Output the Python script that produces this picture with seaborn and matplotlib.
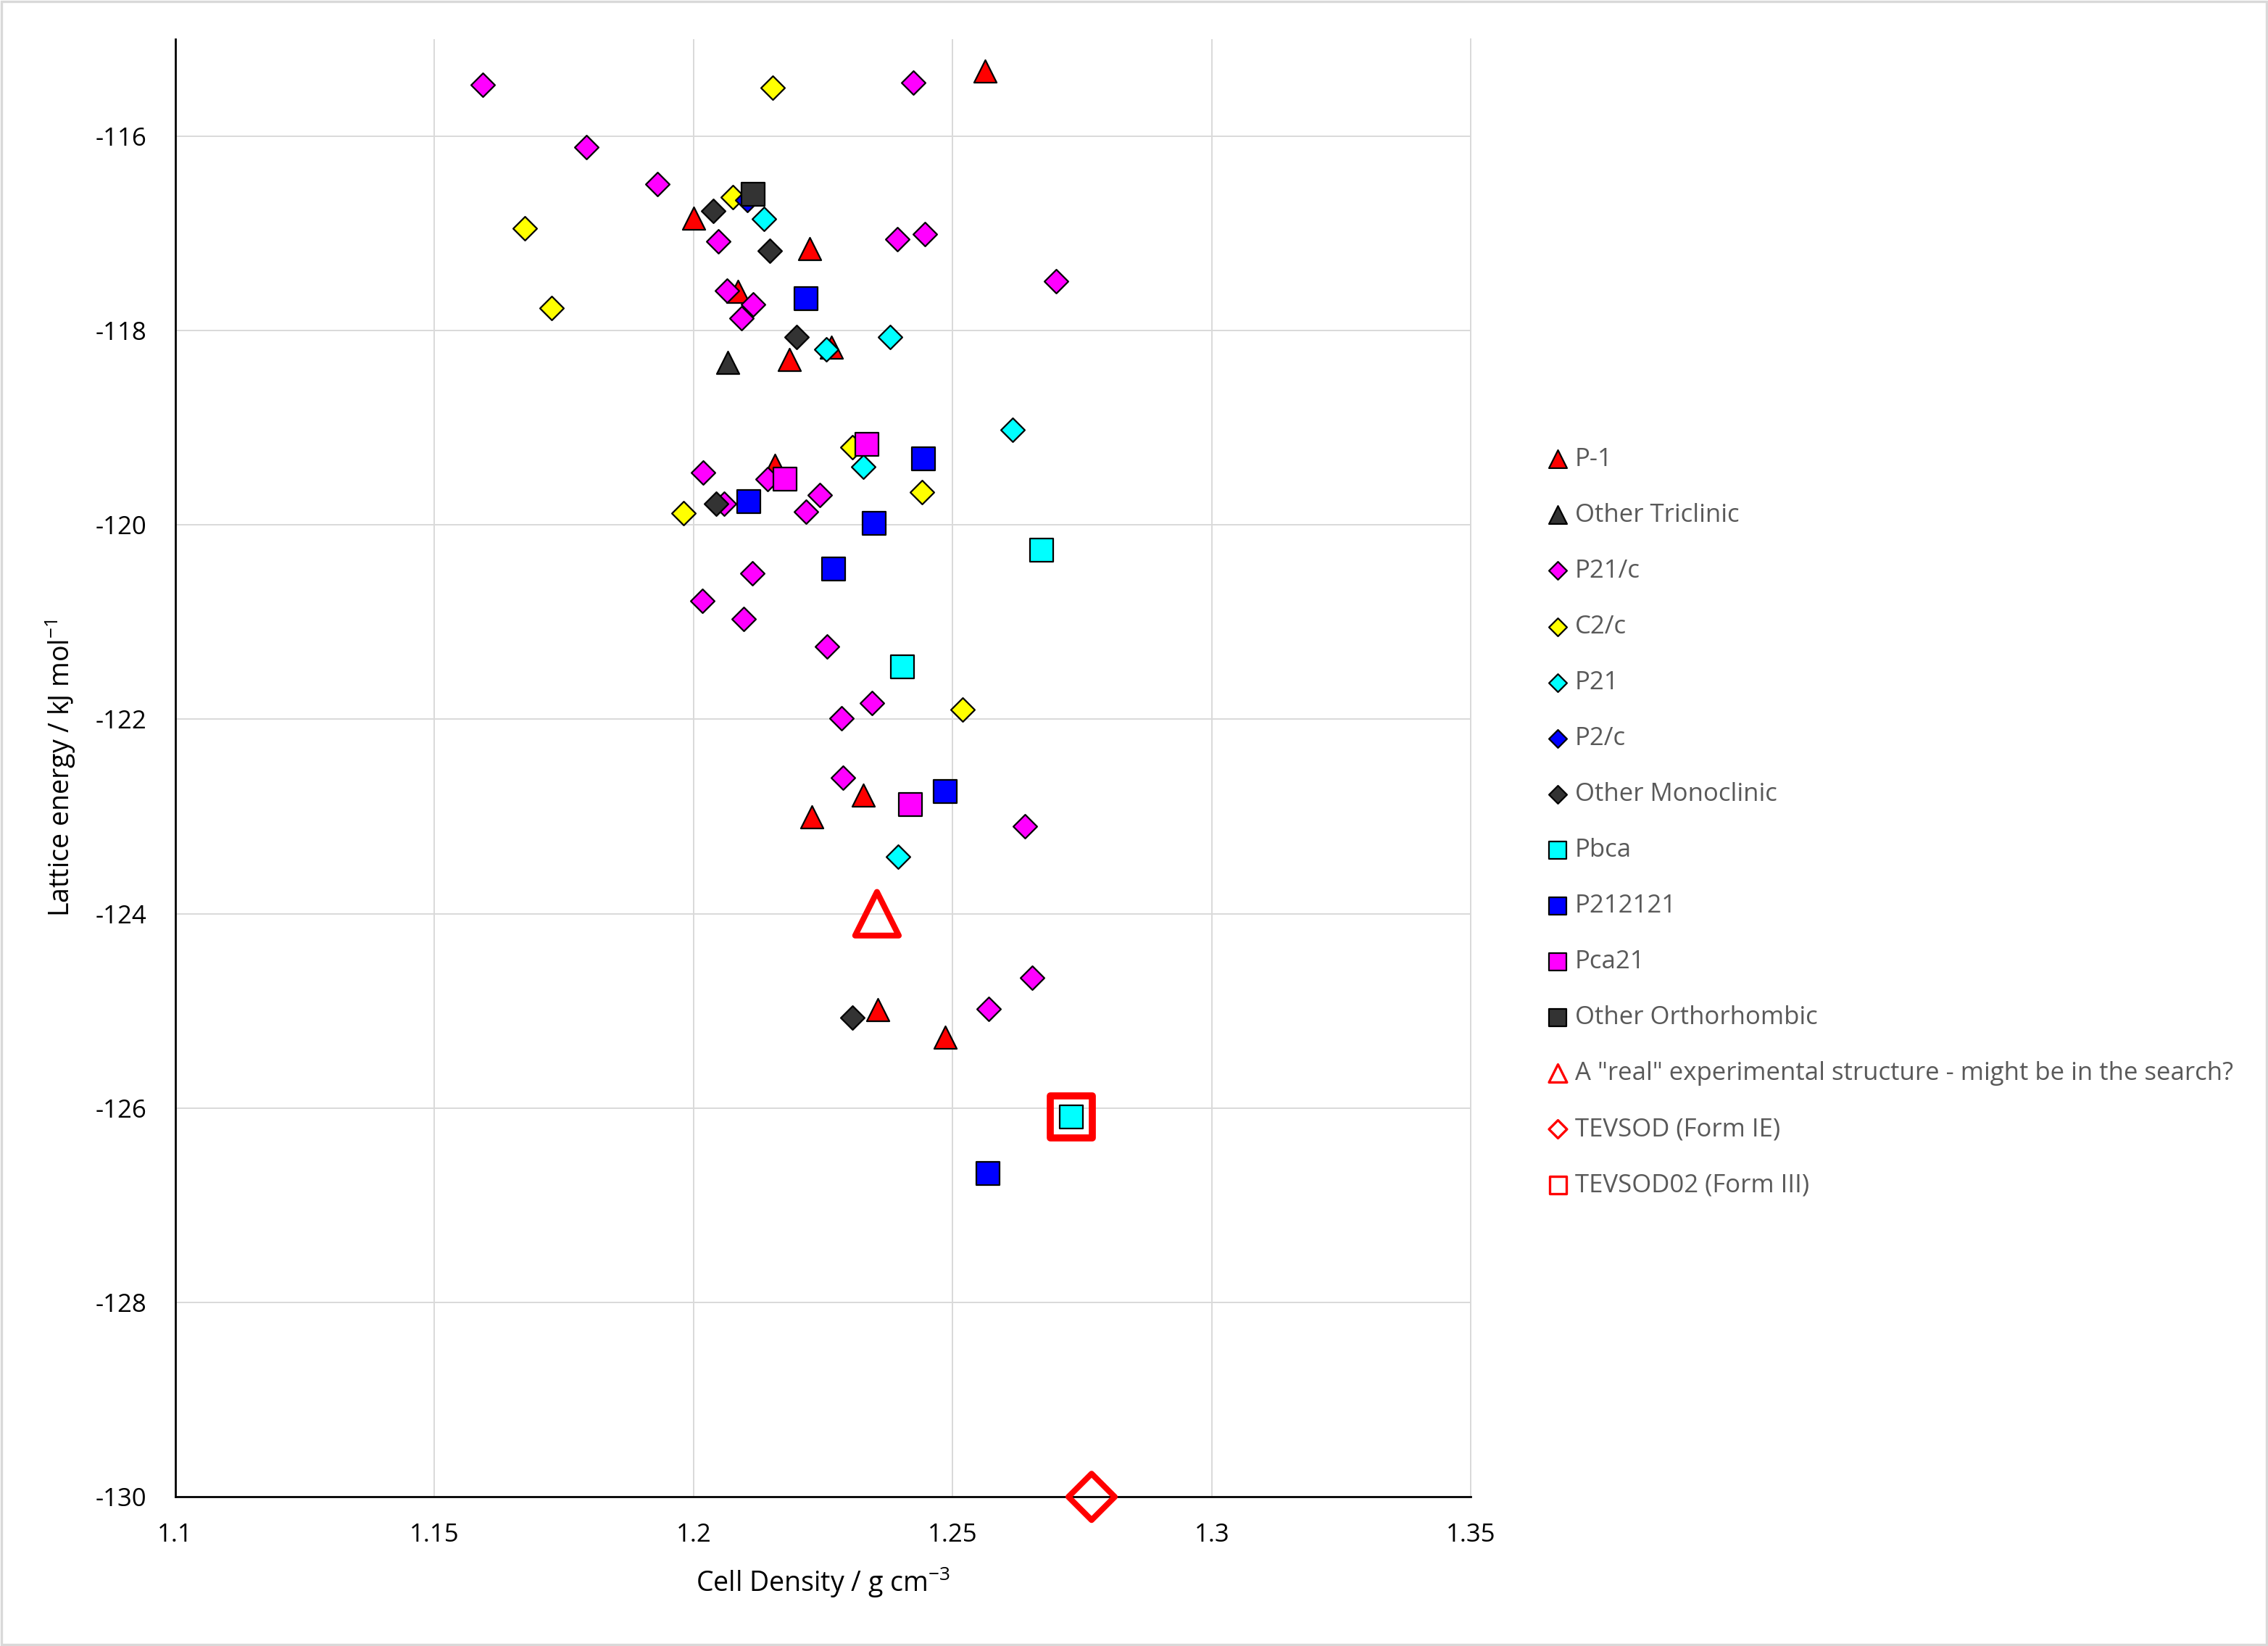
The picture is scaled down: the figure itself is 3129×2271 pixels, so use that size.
import numpy as np
import pandas as pd
import matplotlib
matplotlib.use("Agg")
import matplotlib.pyplot as plt
import seaborn as sns
from matplotlib.patches import Rectangle
from matplotlib.ticker import MultipleLocator, FuncFormatter

# ---------------- data (density g cm-3, lattice energy kJ/mol) ----------------
p1_x = [1.2563, 1.2000, 1.2224, 1.2085, 1.2266, 1.2185, 1.2157, 1.2328, 1.2229, 1.2356, 1.2486]
p1_y = [-115.33, -116.84, -117.16, -117.60, -118.17, -118.30, -119.39, -122.78, -123.00, -124.99, -125.27]

otri_x = [1.2066]
otri_y = [-118.33]

p21c_x = [1.1593, 1.2424, 1.1793, 1.1931, 1.2048, 1.2393, 1.2447, 1.2699, 1.2065, 1.2115, 1.2093,
          1.2019, 1.2143, 1.2243, 1.2217, 1.2059, 1.2114, 1.2017, 1.2097, 1.2258, 1.2345, 1.2286,
          1.2289, 1.2640, 1.2654, 1.2570]
p21c_y = [-115.47, -115.45, -116.11, -116.49, -117.08, -117.06, -117.01, -117.49, -117.59, -117.73, -117.87,
          -119.46, -119.53, -119.69, -119.86, -119.78, -120.50, -120.78, -120.97, -121.25, -121.83, -121.99,
          -122.60, -123.10, -124.66, -124.98]

c2c_x = [1.2153, 1.2076, 1.1675, 1.1726, 1.2307, 1.2441, 1.1981, 1.2519]
c2c_y = [-115.50, -116.63, -116.95, -117.77, -119.20, -119.66, -119.88, -121.90]

p21_x = [1.2136, 1.2256, 1.2380, 1.2616, 1.2328, 1.2395]
p21_y = [-116.85, -118.19, -118.07, -119.02, -119.40, -123.41]

p2c_x = [1.2104]
p2c_y = [-116.66]

omono_x = [1.2038, 1.2147, 1.2199, 1.2044, 1.2306]
omono_y = [-116.77, -117.18, -118.07, -119.78, -125.07]

pbca_x = [1.2671, 1.2403, 1.2729]
pbca_y = [-120.26, -121.46, -126.09]

p212121_x = [1.2217, 1.2443, 1.2107, 1.2349, 1.2270, 1.2485, 1.2568]
p212121_y = [-117.67, -119.32, -119.76, -119.98, -120.45, -122.74, -126.67]

pca21_x = [1.2334, 1.2177, 1.2419]
pca21_y = [-119.17, -119.53, -122.88]

oortho_x = [1.2115]
oortho_y = [-116.60]

real_x = [1.2354]
real_y = [-124.00]

tevsod_x = [1.2768]
tevsod_y = [-130.00]

tevsod02_x = [1.2729]
tevsod02_y = [-126.09]

labels = ["P-1", "Other Triclinic", "P21/c", "C2/c", "P21", "P2/c", "Other Monoclinic",
          "Pbca", "P212121", "Pca21", "Other Orthorhombic",
          'A "real" experimental structure - might be in the search?',
          "TEVSOD (Form IE)", "TEVSOD02 (Form III)"]

# ---------------- style ----------------
sns.set_theme(style="white")
plt.rcParams["font.family"] = ["Open Sans", "DejaVu Sans"]
plt.rcParams["axes.unicode_minus"] = False
plt.rcParams["mathtext.fontset"] = "custom"
plt.rcParams["mathtext.rm"] = "Open Sans"
plt.rcParams["mathtext.it"] = "Open Sans:italic"

RED = "#FF0000"
DARK = "#333333"
MAG = "#FF00FF"
YEL = "#FFFF00"
CYA = "#00FFFF"
BLU = "#0000FF"

S_TRI, S_DIA, S_SQ = 125, 70, 128
EDGE_LW = 0.8

series = [
    (p1_x, p1_y, "^", RED, S_TRI),
    (otri_x, otri_y, "^", DARK, S_TRI),
    (p21c_x, p21c_y, "D", MAG, S_DIA),
    (c2c_x, c2c_y, "D", YEL, S_DIA),
    (p21_x, p21_y, "D", CYA, S_DIA),
    (p2c_x, p2c_y, "D", BLU, S_DIA),
    (omono_x, omono_y, "D", DARK, S_DIA),
    (pbca_x, pbca_y, "s", CYA, S_SQ),
    (p212121_x, p212121_y, "s", BLU, S_SQ),
    (pca21_x, pca21_y, "s", MAG, S_SQ),
    (oortho_x, oortho_y, "s", DARK, S_SQ),
]

fig = plt.figure(figsize=(15.645, 11.355), dpi=200)
ax = fig.add_axes([0.0772, 0.0906, 0.6486 - 0.0772, 0.9763 - 0.0906])

z = 3
for (xs, ys, mk, col, s), lab in zip(series, labels[:11]):
    sns.scatterplot(x=xs, y=ys, marker=mk, s=s, color=col, edgecolor="black",
                    linewidth=EDGE_LW, label=lab, ax=ax, zorder=z, clip_on=False)
    z += 0.01

open_series = [
    (real_x, real_y, "^", 470, 2.9),
    (tevsod_x, tevsod_y, "D", 265, 2.9),
    (tevsod02_x, tevsod02_y, "s", 436, 3.5),
]
for (xs, ys, mk, s, lw), lab in zip(open_series, labels[11:]):
    sns.scatterplot(x=xs, y=ys, marker=mk, s=s, facecolors="none", edgecolor=RED,
                    linewidth=lw, label=lab, ax=ax, zorder=z, clip_on=False)
    z += 0.01
for coll in ax.collections[-3:]:
    coll.set_joinstyle("round")

ax.set_xlim(1.1, 1.35)
ax.set_ylim(-130, -115)
ax.xaxis.set_major_locator(MultipleLocator(0.05))
ax.yaxis.set_major_locator(MultipleLocator(2))
ax.xaxis.set_major_formatter(FuncFormatter(lambda v, p: f"{v:g}"))
ax.yaxis.set_major_formatter(FuncFormatter(lambda v, p: f"{v:g}"))
ax.grid(True, color="#D9D9D9", linewidth=0.7)
ax.set_axisbelow(True)
ax.tick_params(axis="both", length=0, labelsize=12.5, labelcolor="black")
ax.tick_params(axis="y", pad=14)
ax.tick_params(axis="x", pad=13)

ax.spines["top"].set_visible(False)
ax.spines["right"].set_color("#D9D9D9")
ax.spines["right"].set_linewidth(0.7)
for side in ["left", "bottom"]:
    ax.spines[side].set_color("black")
    ax.spines[side].set_linewidth(1.0)

ax.set_xlabel("Cell Density / g cm$^{\\mathregular{-3}}$", fontsize=13.5, color="black")
ax.set_ylabel("Lattice energy / kJ mol$^{\\mathregular{-1}}$", fontsize=13.5, color="black")
ax.xaxis.set_label_coords(0.5, -0.047)
ax.yaxis.set_label_coords(-0.075, 0.5)

handles, labs = ax.get_legend_handles_labels()
leg = ax.legend(handles, labs, loc="center left", bbox_to_anchor=(0.6814, 0.5005),
                bbox_transform=fig.transFigure, frameon=False, fontsize=12.5,
                labelcolor="#595959", handlelength=1.0, handletextpad=0.18,
                labelspacing=1.24, borderpad=0, borderaxespad=0, scatterpoints=1)
leg_sizes = {"^": 80, "D": 40, "s": 72}
mk_list = [m for (_, _, m, _, _) in series] + [m for (_, _, m, _, _) in open_series]
for i, (h, mk) in enumerate(zip(leg.legend_handles, mk_list)):
    h.set_sizes([leg_sizes[mk]])
    h.set_linewidth(1.2 if i >= 11 else 0.8)

fig.patches.append(Rectangle((0.0006, 0.0008), 0.9988, 0.9984, transform=fig.transFigure,
                             fill=False, edgecolor="#D9D9D9", linewidth=1.2))

fig.savefig("out.png", dpi=200, facecolor="white")
